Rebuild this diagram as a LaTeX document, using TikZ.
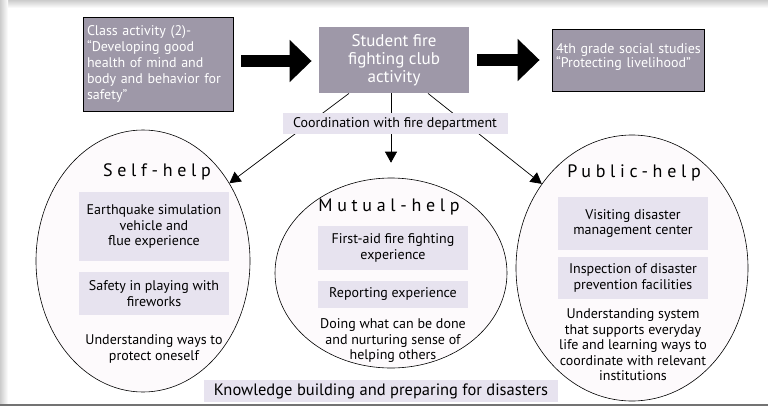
\documentclass[tikz,border=0pt]{standalone}
\usepackage{fontspec}
\setmainfont{PT Sans}
\newfontfamily\spacedfont[LetterSpace=26]{PT Sans}
\usetikzlibrary{shapes.geometric,arrows.meta}
\definecolor{boxgray}{RGB}{158,152,168}
\definecolor{boxlilac}{RGB}{231,227,239}
\definecolor{circfill}{RGB}{253,250,252}
\begin{document}
\begin{tikzpicture}
	[
	x=1pt, y=-1pt,
	every node/.style={font=\fontsize{14}{15.5}\selectfont},
	darkbox/.style={draw = black, fill = boxgray, shape = rectangle, line width = 0.8pt, text = white, inner xsep = 4pt},
	litebox/.style={fill = boxlilac, shape = rectangle, minimum width = 150pt, align = center},
	helpcirc/.style={draw = black, fill = circfill, shape = ellipse, inner sep = 0pt, line width = 0.6pt},
	helptitle/.style={font = \spacedfont\fontsize{18}{20}\selectfont},
	conn/.style={-{Triangle[length=11pt, width=12pt]}, line width = 0.7pt},
	bigarrow/.style={-{Triangle[length=22pt, width=41pt]}, line width = 12pt}
	]
	
	\useasboundingbox (0,0) rectangle (768,407);
	\fill[white] (0,0) rectangle (768,407);
	\shade[top color=black!20, bottom color=white] (0,0) rectangle (768,8);
	\shade[left color=black!20, right color=white] (0,0) rectangle (8,404);
	\draw[black!55, line width=1.2pt] (0,405) -- (768,405);
	
	% top row
	\node[darkbox, minimum width=150pt, minimum height=94pt, text width=142pt, align=left,
		font=\fontsize{14}{15.8}\selectfont](class) at (158,64)
		{Class activity (2)-\\“Developing good\\health of mind and\\\mbox{body and behavior for}\\safety”};
	\node[darkbox, draw=none, minimum width=150pt, minimum height=66pt, align=center,
		font=\fontsize{17}{18}\selectfont](club) at (394,60)
		{Student fire\\fighting club\\activity};
	\node[darkbox, minimum width=152pt, minimum height=62pt, text width=144pt, align=left,
		font=\fontsize{14}{14}\selectfont](social) at (628,60)
		{\mbox{4th grade social studies}\\“Protecting livelihood”\rule[-8pt]{0pt}{8pt}};
	
	\draw[bigarrow, shorten <=8pt, shorten >=7pt] ([yshift=3pt]class.east) -- ([yshift=-1pt]club.west);
	\draw[bigarrow, shorten <=8pt, shorten >=12pt] (club.east) -- (social.west);
	
	% the three circles
	\node[helpcirc, minimum width=214pt, minimum height=262pt](self) at (143,261){};
	\node[helpcirc, minimum width=232pt, minimum height=190pt](mutual) at (391,273){};
	\node[helpcirc, minimum width=232pt, minimum height=266pt](public) at (632,268){};
	
	\draw[conn] ([xshift=-45pt]club.south) -- (self.42);
	\draw[conn, shorten >=15pt] (club.south -| mutual.north) -- (mutual.north);
	\draw[conn] ([xshift=34pt]club.south) -- (public.137);
	
	\node[fill=boxlilac, minimum width=225pt, minimum height=21pt, inner sep=0pt,
		font=\fontsize{14}{15}\selectfont](coord) at (395,123.5){Coordination with fire department};
	
	% self-help
	\node[helptitle](selft) at (157,172){Self-help};
	\node[litebox, minimum height=69pt](selfa) at (154,226.5){Earthquake simulation\\vehicle and\\flue experience};
	\node[litebox, minimum height=43pt](selfb) at (154,293.5){Safety in playing with\\fireworks};
	\node[align=center](selfc) at (154,349){Understanding ways to\\protect oneself};
	
	% mutual-help
	\node[helptitle](mutualt) at (389,207){Mutual-help};
	\node[litebox, minimum height=44pt](mutuala) at (393,248){First-aid fire fighting\\experience};
	\node[litebox, minimum height=27pt](mutualb) at (393,294.5){Reporting experience};
	\node[align=center](mutualc) at (393,341){Doing what can be done\\and nurturing sense of\\helping others};
	
	% public-help
	\node[helptitle](publict) at (634,173){Public-help};
	\node[litebox, minimum height=53pt](publica) at (633,223.5){Visiting disaster\\management center};
	\node[litebox, minimum height=42pt](publicb) at (633,278){Inspection of disaster\\prevention facilities};
	\node[align=center](publicc) at (633,345){Understanding system\\that supports everyday\\life and learning ways to\\coordinate with relevant\\institutions};
	
	\node[fill=boxlilac, minimum width=354pt, minimum height=22pt, inner sep=0pt,
		font=\fontsize{16.5}{18}\selectfont](knowledge) at (381,391){Knowledge building and preparing for disasters};
\end{tikzpicture}
\end{document}
